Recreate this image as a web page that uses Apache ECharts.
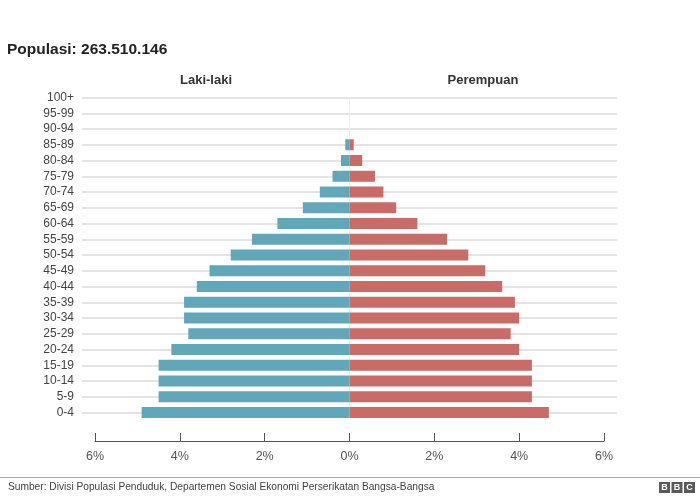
<!DOCTYPE html>
<html>
<head>
<meta charset="utf-8">
<script src="https://cdn.jsdelivr.net/npm/echarts@6/dist/echarts.min.js"></script>
<style>
html,body{margin:0;padding:0;background:#fff;}
#chart{width:700px;height:497px;}
</style>
</head>
<body>
<div id="chart"></div>
<script>
const categories = ['0-4','5-9','10-14','15-19','20-24','25-29','30-34','35-39','40-44','45-49','50-54','55-59','60-64','65-69','70-74','75-79','80-84','85-89','90-94','95-99','100+'];
const maleValues = [4.9,4.5,4.5,4.5,4.2,3.8,3.9,3.9,3.6,3.3,2.8,2.3,1.7,1.1,0.7,0.4,0.2,0.1,0,0,0];
const femaleValues = [4.7,4.3,4.3,4.3,4.0,3.8,4.0,3.9,3.6,3.2,2.8,2.3,1.6,1.1,0.8,0.6,0.3,0.1,0,0,0];
const xTicks = [-6,-4,-2,0,2,4,6];
const titleText = 'Populasi: 263.510.146';
const maleLabel = 'Laki-laki';
const femaleLabel = 'Perempuan';
const sourceText = 'Sumber: Divisi Populasi Penduduk, Departemen Sosial Ekonomi Perserikatan Bangsa-Bangsa';

const FONT = '"Liberation Sans", Arial, Helvetica, sans-serif';
const chart = echarts.init(document.getElementById('chart'), null, {renderer: 'canvas'});

const gridTop = 97.5, gridBottom = 84.5;

const option = {
  animation: false,
  backgroundColor: '#ffffff',
  textStyle: {fontFamily: FONT},
  grid: [
    {left: 82, right: 83, top: gridTop, bottom: gridBottom, containLabel: false},
    {left: 95, right: 96, top: gridTop, bottom: gridBottom, containLabel: false}
  ],
  xAxis: [
    {gridIndex: 0, type: 'value', min: -6.31, max: 6.31, show: false},
    {
      gridIndex: 1, type: 'value', min: xTicks[0], max: xTicks[xTicks.length - 1], interval: 2,
      position: 'bottom', offset: 28.5,
      axisLine: {show: true, lineStyle: {color: '#555555', width: 1}},
      axisTick: {show: true, inside: true, length: 8, lineStyle: {color: '#555555', width: 1}},
      splitLine: {show: false},
      axisLabel: {
        show: true, margin: 9, color: '#555555', fontSize: 12.5, fontFamily: FONT,
        formatter: v => Math.abs(v) + '%'
      }
    }
  ],
  yAxis: [
    {
      gridIndex: 0, type: 'category', data: categories, boundaryGap: false,
      axisLine: {show: false}, axisTick: {show: false},
      axisLabel: {show: true, interval: 0, margin: 8, color: '#444444', fontSize: 12, fontFamily: FONT},
      splitLine: {show: true, interval: 0, lineStyle: {color: '#e4e4e4', width: 2}}
    },
    {
      gridIndex: 1, type: 'category', data: categories, boundaryGap: false,
      show: false
    }
  ],
  series: [
    {
      name: maleLabel, type: 'bar', xAxisIndex: 1, yAxisIndex: 1,
      data: maleValues.map(v => -v), barWidth: 11, barGap: '-100%', clip: false,
      itemStyle: {color: '#62a6b9'},
      z: 3
    },
    {
      name: femaleLabel, type: 'bar', xAxisIndex: 1, yAxisIndex: 1,
      data: femaleValues, barWidth: 11, barGap: '-100%', clip: false,
      itemStyle: {color: '#c96c68'},
      z: 3,
      markLine: {
        silent: true, symbol: 'none', label: {show: false},
        lineStyle: {color: '#eeeeee', width: 1, type: 'solid'},
        data: [{xAxis: 0}], z: 1
      }
    }
  ],
  graphic: [
    {type: 'text', left: 7, top: 42, style: {text: titleText, font: 'bold 15.5px ' + FONT, fill: '#222222'}},
    {type: 'text', x: 206, y: 80.5, style: {text: maleLabel, font: 'bold 13px ' + FONT, fill: '#333333', textAlign: 'center', textVerticalAlign: 'middle'}},
    {type: 'text', x: 483, y: 80.5, style: {text: femaleLabel, font: 'bold 13px ' + FONT, fill: '#333333', textAlign: 'center', textVerticalAlign: 'middle'}},
    {type: 'line', shape: {x1: 0, y1: 477.5, x2: 700, y2: 477.5}, style: {stroke: '#aaaaaa', lineWidth: 1}},
    {type: 'text', x: 8, y: 487.5, style: {text: sourceText, font: '10.2px ' + FONT, fill: '#404040', textVerticalAlign: 'middle'}},
    {type: 'group', left: 659, top: 482, children: [
      {type: 'rect', shape: {x: 0, y: 0, width: 11, height: 11}, style: {fill: '#5a5a5a'}},
      {type: 'text', x: 5.5, y: 5.5, style: {text: 'B', font: 'bold 9px ' + FONT, fill: '#ffffff', textAlign: 'center', textVerticalAlign: 'middle'}},
      {type: 'rect', shape: {x: 12.5, y: 0, width: 11, height: 11}, style: {fill: '#5a5a5a'}},
      {type: 'text', x: 18, y: 5.5, style: {text: 'B', font: 'bold 9px ' + FONT, fill: '#ffffff', textAlign: 'center', textVerticalAlign: 'middle'}},
      {type: 'rect', shape: {x: 25, y: 0, width: 11, height: 11}, style: {fill: '#5a5a5a'}},
      {type: 'text', x: 30.5, y: 5.5, style: {text: 'C', font: 'bold 9px ' + FONT, fill: '#ffffff', textAlign: 'center', textVerticalAlign: 'middle'}}
    ]}
  ]
};
chart.setOption(option);
</script>
</body>
</html>
